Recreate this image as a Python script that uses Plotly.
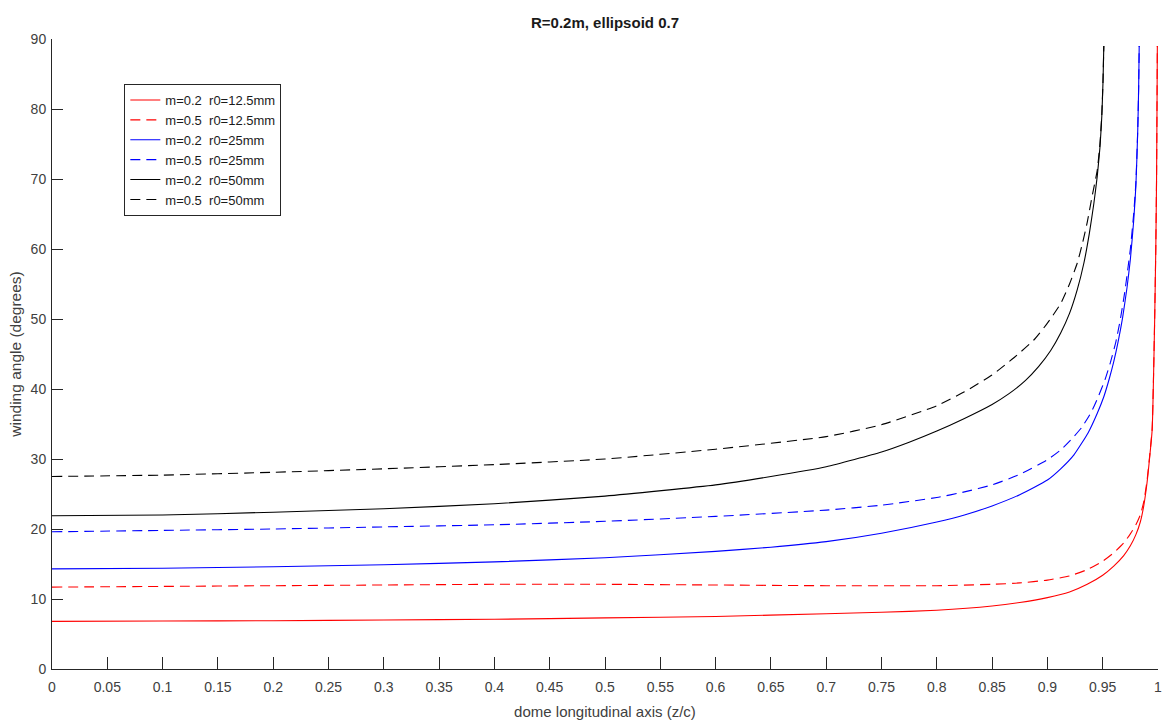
import plotly.graph_objects as go

# ---- data ----
x_r02_125 = [0, 0.1, 0.2, 0.3, 0.4, 0.5, 0.6, 0.7, 0.75, 0.8, 0.85, 0.875, 0.9, 0.92, 0.936, 0.95, 0.96,
             0.969, 0.975, 0.980, 0.984, 0.987, 0.990, 0.992, 0.9947, 0.996, 0.997, 0.998, 0.9987,
             0.9991, 0.9994]
y_r02_125 = [6.8, 6.85, 6.9, 7.0, 7.1, 7.3, 7.5, 7.9, 8.1, 8.4, 9.0, 9.5, 10.2, 11.0, 12.1, 13.4, 14.7,
             16.2, 17.6, 19.2, 21.0, 23.2, 26.5, 29.5, 34.1, 42.0, 50.0, 60.0, 70.0,
             80.0, 89.0]

x_r05_125 = [0, 0.1, 0.2, 0.3, 0.4, 0.5, 0.6, 0.7, 0.8, 0.85, 0.875, 0.9, 0.92, 0.936, 0.95, 0.96,
             0.969, 0.975, 0.980, 0.984, 0.987, 0.990, 0.992, 0.9947, 0.996, 0.997, 0.998, 0.9987,
             0.9991, 0.9994]
y_r05_125 = [11.7, 11.8, 11.9, 12.0, 12.1, 12.1, 12.0, 11.9, 11.9, 12.1, 12.3, 12.7, 13.3, 14.2, 15.4, 16.6,
             18.0, 19.3, 20.6, 22.0, 23.8, 26.8, 29.7, 34.3, 42.2, 50.2, 60.2, 70.2,
             80.2, 89.0]

x_r02_25 = [0, 0.1, 0.2, 0.3, 0.4, 0.5, 0.6, 0.65, 0.7, 0.75, 0.8, 0.825, 0.85, 0.875, 0.9, 0.912,
            0.924, 0.937, 0.945, 0.951, 0.956, 0.960, 0.964, 0.968, 0.972, 0.975, 0.978, 0.980,
            0.9817, 0.9825, 0.983]
y_r02_25 = [14.3, 14.4, 14.6, 14.9, 15.3, 15.9, 16.8, 17.4, 18.2, 19.4, 21.0, 22.0, 23.3, 24.9, 27.0, 28.6,
            30.6, 33.8, 36.5, 38.9, 41.5, 43.9, 46.8, 50.2, 54.5, 58.5, 64.0, 69.0,
            77.0, 83.0, 89.0]

x_r05_25 = [0, 0.1, 0.2, 0.3, 0.4, 0.5, 0.6, 0.7, 0.75, 0.8, 0.825, 0.85, 0.875, 0.9, 0.912,
            0.921, 0.931, 0.94, 0.946, 0.952, 0.957, 0.962, 0.966, 0.970, 0.973, 0.975, 0.978,
            0.980, 0.9817, 0.9825, 0.983]
y_r05_25 = [19.6, 19.8, 20.0, 20.3, 20.6, 21.1, 21.8, 22.7, 23.4, 24.5, 25.3, 26.3, 27.8, 29.9, 31.3,
            32.7, 34.5, 36.8, 38.9, 41.3, 43.8, 46.8, 50.0, 53.9, 57.5, 60.0, 65.0,
            69.5, 77.2, 83.1, 89.0]

x_r02_50 = [0, 0.1, 0.2, 0.3, 0.4, 0.5, 0.6, 0.65, 0.7, 0.75, 0.775, 0.8, 0.825, 0.85, 0.865, 0.88, 0.892,
            0.903, 0.912, 0.92, 0.927, 0.933, 0.938, 0.942, 0.945, 0.9475, 0.9492, 0.9503, 0.951]
y_r02_50 = [21.9, 22.0, 22.4, 22.9, 23.6, 24.7, 26.3, 27.5, 28.9, 31.0, 32.4, 34.0, 35.8, 37.8, 39.3, 41.2, 43.2,
            45.5, 48.0, 50.8, 54.2, 58.0, 62.3, 66.5, 70.3, 74.5, 79.0, 84.0, 89.0]

x_r05_50 = [0, 0.1, 0.2, 0.3, 0.4, 0.5, 0.6, 0.7, 0.75, 0.8, 0.825, 0.85, 0.87, 0.8877, 0.9,
            0.912, 0.92, 0.927, 0.932, 0.936, 0.9404, 0.945, 0.9475, 0.9492, 0.9503, 0.951]
y_r05_50 = [27.5, 27.7, 28.1, 28.6, 29.2, 30.0, 31.4, 33.2, 34.9, 37.6, 39.6, 42.0, 44.5, 47.0, 49.4,
            52.2, 55.0, 58.0, 61.0, 63.8, 67.5, 71.2, 75.0, 79.3, 84.2, 89.0]

series_names = ["m=0.2  r0=12.5mm", "m=0.5  r0=12.5mm", "m=0.2  r0=25mm",
                "m=0.5  r0=25mm", "m=0.2  r0=50mm", "m=0.5  r0=50mm"]
series_x = [x_r02_125, x_r05_125, x_r02_25, x_r05_25, x_r02_50, x_r05_50]
series_y = [y_r02_125, y_r05_125, y_r02_25, y_r05_25, y_r02_50, y_r05_50]
series_colors = ["#ff0000", "#ff0000", "#0000ff", "#0000ff", "#000000", "#000000"]
series_dash = ["solid", "10px,6px", "solid", "10px,6px", "solid", "10px,6px"]

x_tickvals = [0, 0.05, 0.1, 0.15, 0.2, 0.25, 0.3, 0.35, 0.4, 0.45, 0.5,
              0.55, 0.6, 0.65, 0.7, 0.75, 0.8, 0.85, 0.9, 0.95, 1]
x_ticktext = ["0", "0.05", "0.1", "0.15", "0.2", "0.25", "0.3", "0.35", "0.4", "0.45", "0.5",
              "0.55", "0.6", "0.65", "0.7", "0.75", "0.8", "0.85", "0.9", "0.95", "1"]
y_tickvals = [0, 10, 20, 30, 40, 50, 60, 70, 80, 90]

FONT = "Liberation Sans, Arial, Helvetica, sans-serif"
AX = "#262626"
TXT = "#404040"

fig = go.Figure()
for name, xs, ys, c, d in zip(series_names, series_x, series_y, series_colors, series_dash):
    fig.add_trace(go.Scatter(x=xs, y=ys, mode="lines", name=name,
                             line=dict(color=c, width=1.1, dash=d, shape="spline", smoothing=0.5)))

fig.update_layout(
    width=1162, height=724, autosize=False,
    margin=dict(l=52, r=4, t=39, b=55),
    paper_bgcolor="white", plot_bgcolor="white",
    font=dict(family=FONT, color=TXT, size=14),
    title=dict(text="<b>R=0.2m, ellipsoid 0.7</b>", x=0.5, xref="paper", xanchor="center",
               y=1 - 23 / 724, yref="container", yanchor="middle",
               font=dict(family=FONT, size=15, color="#1a1a1a")),
    showlegend=True,
    legend=dict(x=0.0654, y=0.9286, xanchor="left", yanchor="top",
                bgcolor="white", bordercolor=AX, borderwidth=1,
                font=dict(family=FONT, size=13, color="#1a1a1a"),
                tracegroupgap=0, itemwidth=30),
)
fig.update_xaxes(range=[0, 1], tickmode="array", tickvals=x_tickvals, ticktext=x_ticktext,
                 showline=True, linecolor=AX, linewidth=1, mirror=False,
                 ticks="inside", ticklen=12, tickwidth=1, tickcolor=AX,
                 showgrid=False, zeroline=False, ticklabelstandoff=5,
                 ticklabeloverflow="allow", automargin=False,
                 tickfont=dict(family=FONT, size=14, color=TXT),
                 title=dict(text="dome longitudinal axis (z/c)", standoff=12,
                            font=dict(family=FONT, size=15, color=TXT)))
fig.update_yaxes(range=[0, 90], tickmode="array", tickvals=y_tickvals,
                 showline=True, linecolor=AX, linewidth=1, mirror=False,
                 ticks="inside", ticklen=11, tickwidth=1, tickcolor=AX,
                 showgrid=False, zeroline=False, ticklabelstandoff=2, automargin=False,
                 tickfont=dict(family=FONT, size=14, color=TXT),
                 title=dict(text="winding angle (degrees)", standoff=5,
                            font=dict(family=FONT, size=15.5, color=TXT)))

fig.write_html("out.html")
